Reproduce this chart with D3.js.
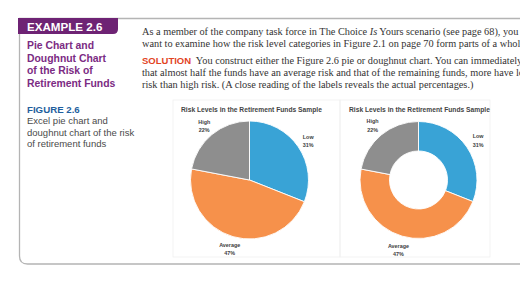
<!DOCTYPE html>
<html><head><meta charset="utf-8">
<script src="https://cdn.jsdelivr.net/npm/d3@7"></script>
<style>
html,body{margin:0;padding:0;background:#fff;overflow:hidden;}
svg{display:block;}
</style></head>
<body>
<svg id="c" width="520" height="292"></svg>
<script>
const categories = ["Low", "Average", "High"];
const percents = [31, 47, 22];
const colors = ["#39a3d6", "#f6914b", "#8e8e8e"];
const chartTitle = "Risk Levels in the Retirement Funds Sample";
const sideTitle = ["Pie Chart and", "Doughnut Chart", "of the Risk of", "Retirement Funds"];
const figCaption = ["Excel pie chart and", "doughnut chart of the risk", "of retirement funds"];
const bodyLines = [
  "As a member of the company task force in The Choice <i>Is</i> Yours scenario (see page 68), you",
  "want to examine how the risk level categories in Figure 2.1 on page 70 form parts of a whole."
];
const solLines = [
  "You construct either the Figure 2.6 pie or doughnut chart. You can immediately see",
  "that almost half the funds have an average risk and that of the remaining funds, more have low",
  "risk than high risk. (A close reading of the labels reveals the actual percentages.)"
];

const svg = d3.select("#c");
const sans = "'Liberation Sans', Arial, sans-serif";
const serif = "'Liberation Serif', 'Times New Roman', serif";

// frame
svg.append("path")
  .attr("d", "M520,18.5 L19.5,18.5 L19.5,256 Q19.5,264 27.5,264 L520,264")
  .attr("fill", "none").attr("stroke", "#b4b4b4").attr("stroke-width", 1.3);

// tab
svg.append("path")
  .attr("d", "M18,18 L118,18 L118,29 Q118,34 113,34 L18,34 Z")
  .attr("fill", "#6e2374");
svg.append("text").attr("x", 27).attr("y", 31)
  .attr("font-family", sans).attr("font-weight", "bold").attr("font-size", 11.6)
  .attr("fill", "#fff").text("EXAMPLE 2.6");

svg.append("g").selectAll("text").data(sideTitle).join("text")
  .attr("x", 27).attr("y", (d, i) => 49 + i * 12.5)
  .attr("font-family", sans).attr("font-weight", "bold").attr("font-size", 10.4)
  .attr("fill", "#7b2b83").text(d => d);

svg.append("text").attr("x", 27).attr("y", 112.5)
  .attr("font-family", sans).attr("font-weight", "bold").attr("font-size", 9.7)
  .attr("fill", "#1f5f9e").text("FIGURE 2.6");
svg.append("g").selectAll("text").data(figCaption).join("text")
  .attr("x", 27).attr("y", (d, i) => 124 + i * 11.5)
  .attr("font-family", sans).attr("font-size", 9.5)
  .attr("fill", "#4a4a4a").text(d => d);

// body text
const fs = 10.3;
const bt = svg.append("g");
bodyLines.forEach((l, i) => {
  bt.append("text").attr("x", 142).attr("y", 35 + i * 12)
    .attr("font-family", serif).attr("font-size", fs).attr("fill", "#333")
    .html(l.replace("<i>Is</i>", "<tspan font-style='italic'>Is</tspan>"));
});
const st = bt.append("text").attr("x", 142).attr("y", 64)
  .attr("font-family", serif).attr("font-size", fs).attr("fill", "#333");
st.append("tspan").attr("font-family", sans).attr("font-weight", "bold")
  .attr("font-size", 9.5).attr("fill", "#e2441f").text("SOLUTION");
st.append("tspan").text("\u00a0 " + solLines[0]);
solLines.slice(1).forEach((l, i) => {
  bt.append("text").attr("x", 142).attr("y", 76 + i * 12)
    .attr("font-family", serif).attr("font-size", fs).attr("fill", "#333").text(l);
});

// charts
const data = categories.map((c, i) => ({cat: c, v: percents[i]}));
const pie = d3.pie().value(d => d.v).sort(null);
const color = d3.scaleOrdinal().domain(categories).range(colors);

function drawChart(panel, cx, cy, R, inner, titleX, labelR) {
  svg.append("rect").attr("x", panel[0]).attr("y", panel[1])
    .attr("width", panel[2]).attr("height", panel[3])
    .attr("fill", "none").attr("stroke", "#f0f0f0").attr("stroke-width", 0.8);
  svg.append("text").attr("x", titleX).attr("y", 111.5)
    .attr("font-family", sans).attr("font-weight", "bold").attr("font-size", 6.7)
    .attr("fill", "#444").text(chartTitle);
  const g = svg.append("g").attr("transform", `translate(${cx},${cy})`);
  const arc = d3.arc().innerRadius(inner).outerRadius(R);
  const arcs = pie(data);
  g.selectAll("path").data(arcs).join("path")
    .attr("d", arc).attr("fill", d => color(d.data.cat))
    .attr("stroke", "#fff").attr("stroke-width", 0.9);
  const la = d3.arc().innerRadius(labelR).outerRadius(labelR);
  const lab = g.selectAll("g.lab").data(arcs).join("g").attr("class", "lab")
    .attr("transform", d => { const c = la.centroid(d); return `translate(${c[0]},${c[1]})`; });
  lab.append("text").attr("text-anchor", "middle").attr("y", -1.5)
    .attr("font-family", sans).attr("font-weight", "bold").attr("font-size", 5.4)
    .attr("fill", "#404040").text(d => d.data.cat);
  lab.append("text").attr("text-anchor", "middle").attr("y", 7)
    .attr("font-family", sans).attr("font-weight", "bold").attr("font-size", 5.4)
    .attr("fill", "#404040").text(d => d.data.v + "%");
}
drawChart([173, 100, 167, 157], 249.5, 180, 59, 0, 181, 71);
drawChart([340, 100, 150, 157], 418.5, 180, 58.5, 29, 349, 72);
</script>
</body></html>
